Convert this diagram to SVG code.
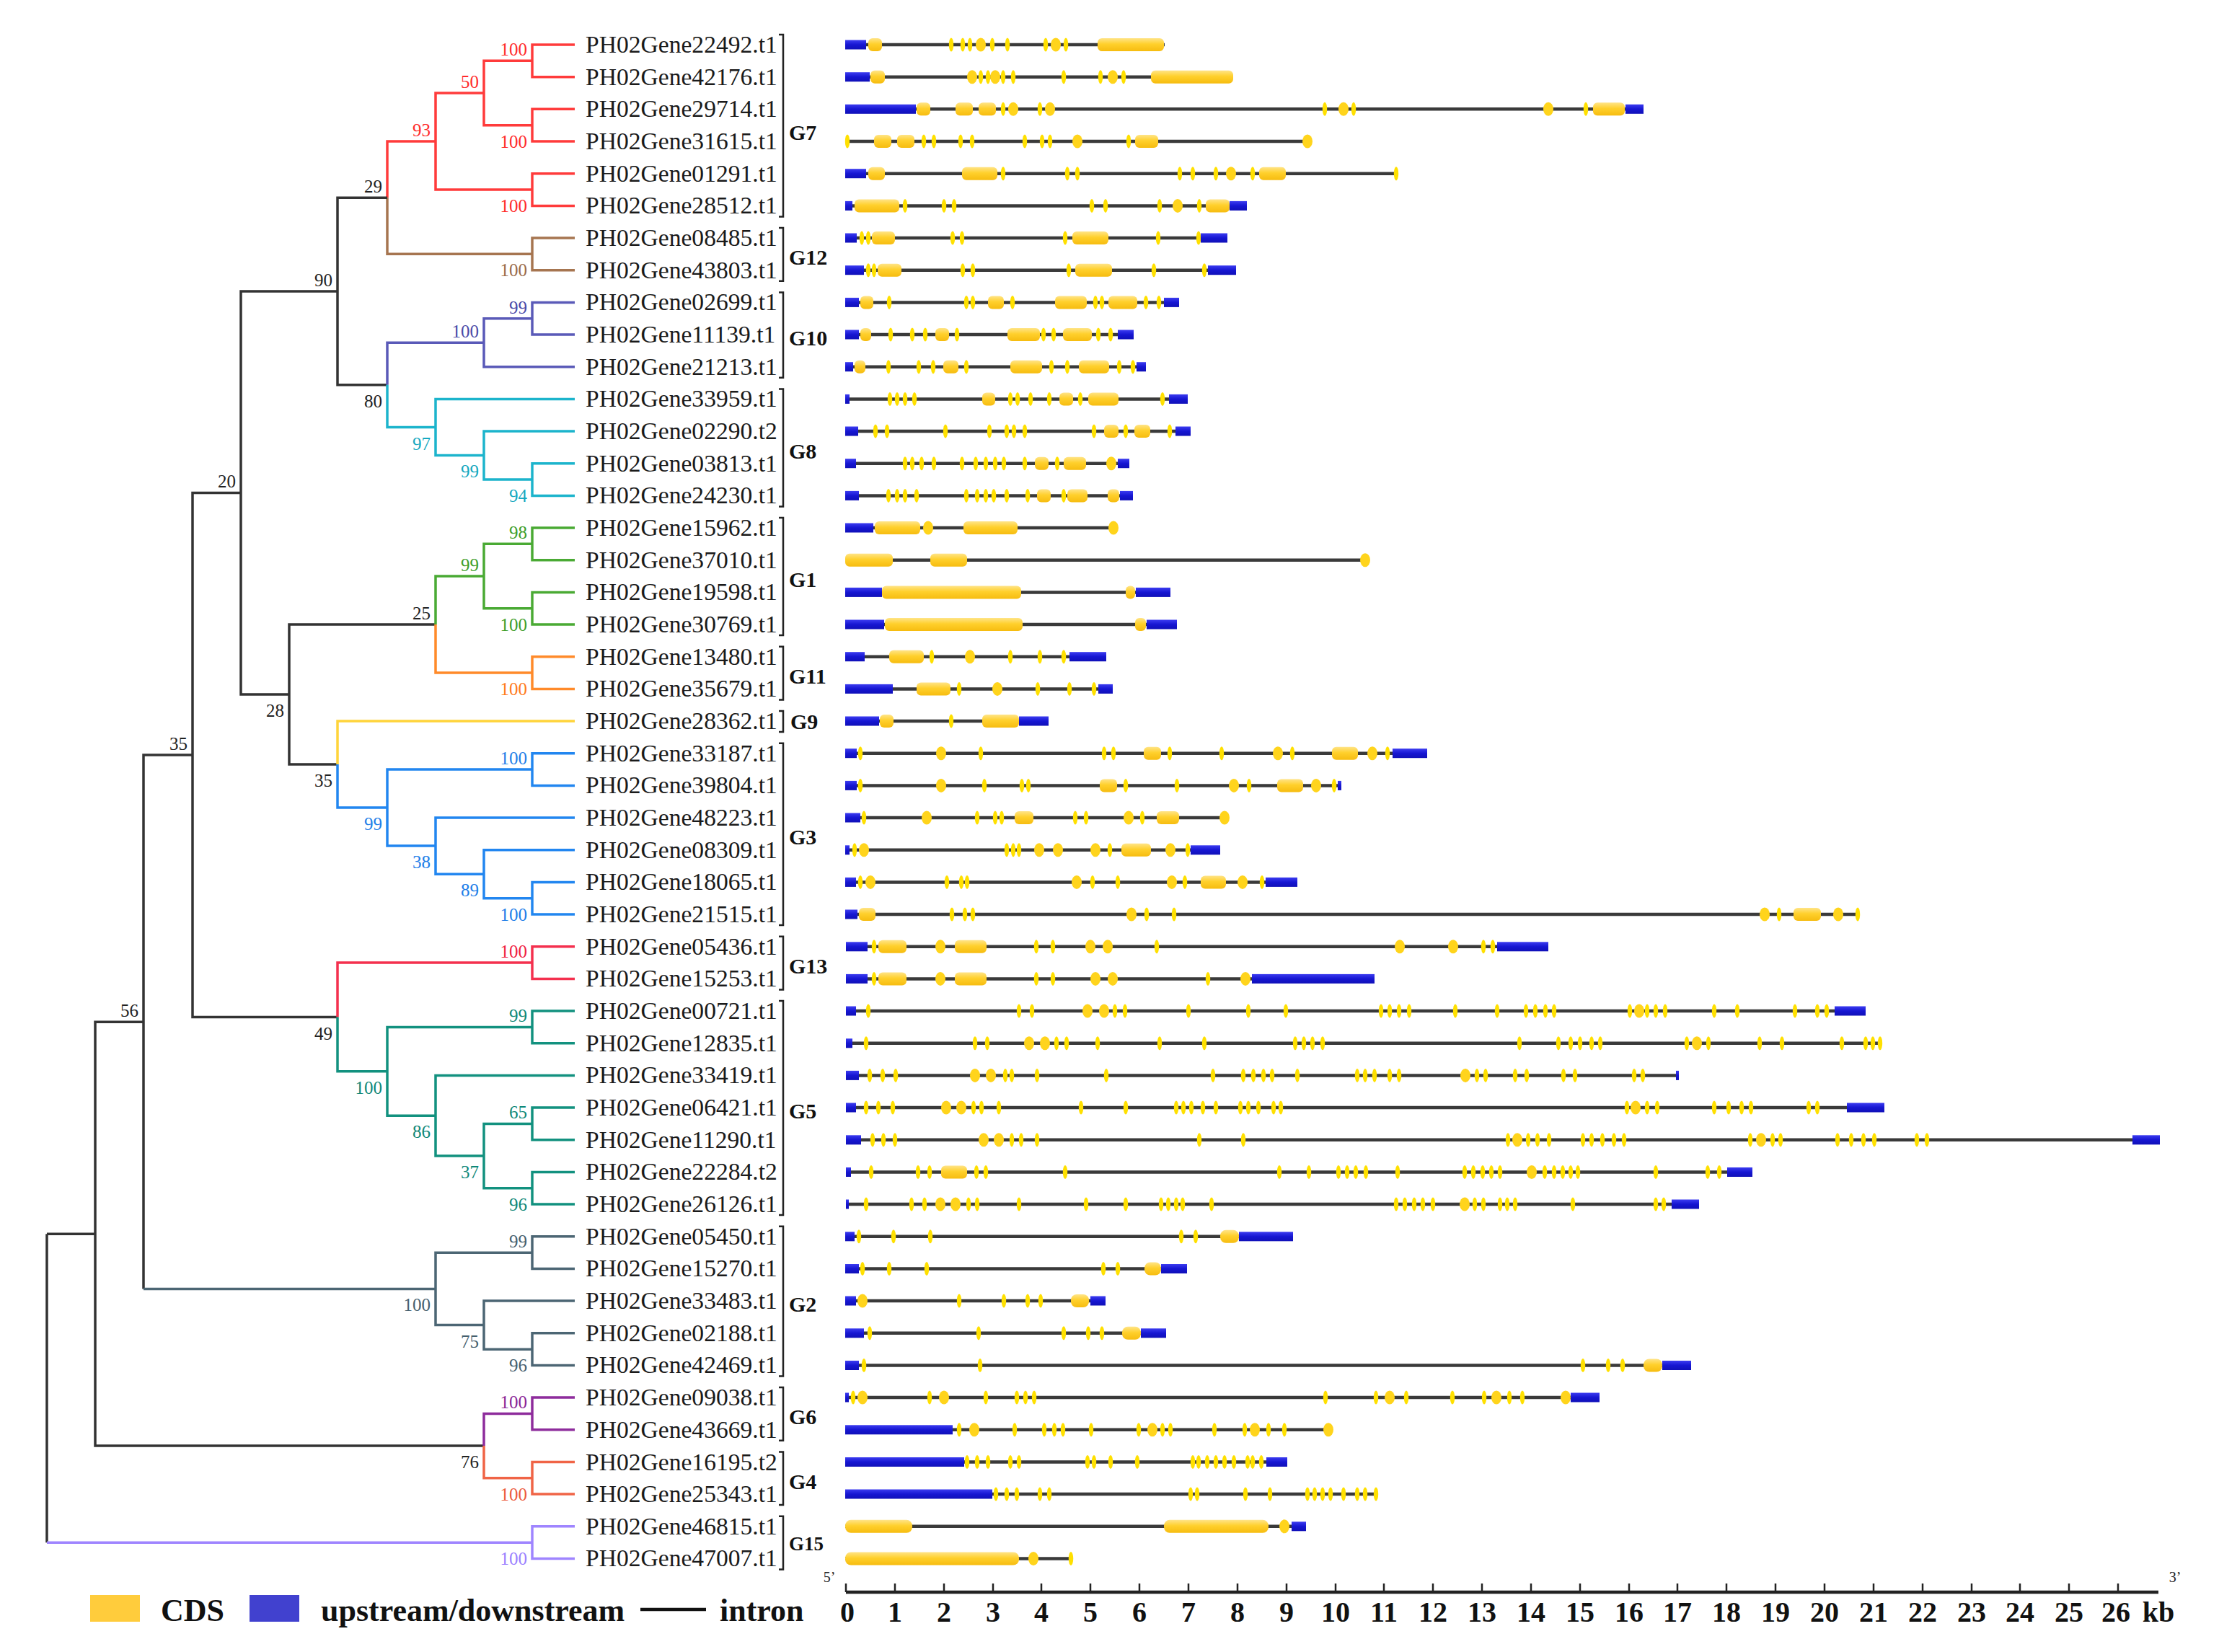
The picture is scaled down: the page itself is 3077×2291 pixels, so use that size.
<svg xmlns="http://www.w3.org/2000/svg" xmlns:xlink="http://www.w3.org/1999/xlink" width="3077" height="2291" viewBox="0 0 3077 2291">
<style>
text{font-family:"Liberation Serif","Times New Roman",serif}
.gl{font-size:33.6px;fill:#1a1a1a}
.bs{font-size:25px;text-anchor:end}
.grp{font-size:30px;font-weight:bold;fill:#111}
.ax{font-size:40px;font-weight:bold;text-anchor:middle;fill:#111}
.lg{font-size:44px;font-weight:bold;fill:#111}
.br{fill:none;stroke-width:3.5;stroke-linejoin:miter}
.L{fill:none;stroke:#3a3a3a;stroke-width:4.5}
.B{fill:url(#gb)}
.Y{fill:url(#gy)}
.bk{fill:none;stroke:#222;stroke-width:2.5}
</style>
<defs>
<linearGradient id="gy" x1="0" y1="0" x2="0" y2="1"><stop offset="0" stop-color="#ffe488"/><stop offset="0.45" stop-color="#ffd02c"/><stop offset="1" stop-color="#f6bc10"/></linearGradient>
<linearGradient id="gb" x1="0" y1="0" x2="0" y2="1"><stop offset="0" stop-color="#3c3cf0"/><stop offset="0.5" stop-color="#1616d2"/><stop offset="1" stop-color="#1010b8"/></linearGradient>
<ellipse id="s" cx="0" cy="0" rx="3.2" ry="9.5" fill="#ffe000"/>
<ellipse id="r" cx="0" cy="0" rx="7" ry="9.5" fill="#ffd41c"/>
</defs>
<rect width="3077" height="2291" fill="#fff"/>

<g id="connectors">
<path class="br" stroke="#ff3b3b" d="M738 84.35V62H797M738 84.35V106.7H797M738 173.65V151.3H797M738 173.65V196H797M671 129V84.35H738M671 129V173.65H738M738 263.05V240.7H797M738 263.05V285.4H797M604 196V129H671M604 196V263.05H738M537 274.2V196H604"/>
<path class="br" stroke="#a67550" d="M537 274.2V352.35H738M738 352.35V330H797M738 352.35V374.7H797"/>
<path class="br" stroke="#333" d="M468 404V274.2H537M468 404V533.8H537M334 683.5V404H468M334 683.5V963H401M401 963V866H604M401 963V1060H468M267 1047V683.5H334M267 1047V1410.5H468M199 1417.2V1047H267M199 1417.2V1787.4M132 1711.2V1417.2H199M132 1711.2V2005.1H671M65 1711.2V2139.2M65 1711.2H132"/>
<path class="br" stroke="#5a5ab8" d="M537 533.8V475.2H671M671 475.2V441.7H738M671 475.2V508.7H797M738 441.7V419.4H797M738 441.7V464H797"/>
<path class="br" stroke="#1cb4cc" d="M537 533.8V592.5H604M604 592.5V553.4H797M604 592.5V631.5H671M671 631.5V598H797M671 631.5V665H738M738 665V642.7H797M738 665V687.4H797"/>
<path class="br" stroke="#4aaa34" d="M604 866V799H671M671 799V754.3H738M671 799V843.7H738M738 754.3V732H797M738 754.3V776.7H797M738 843.7V821.4H797M738 843.7V866H797"/>
<path class="br" stroke="#ff8a2a" d="M604 866V933H738M738 933V910.7H797M738 933V955.4H797"/>
<path class="br" stroke="#ffd43a" d="M468 1060V1000H797"/>
<path class="br" stroke="#2286f0" d="M468 1060V1120H537M537 1120V1067H738M537 1120V1173.1H604M738 1067V1044.7H797M738 1067V1089.4H797M604 1173.1V1134H797M604 1173.1V1212.2H671M671 1212.2V1178.8H797M671 1212.2V1245.7H738M738 1245.7V1223.4H797M738 1245.7V1268H797"/>
<path class="br" stroke="#f4304e" d="M468 1410.5V1335.1H738M738 1335.1V1312.8H797M738 1335.1V1357.4H797"/>
<path class="br" stroke="#12917f" d="M468 1410.5V1485.8H537M537 1485.8V1424.4H738M537 1485.8V1547.3H604M738 1424.4V1402H797M738 1424.4V1446.8H797M604 1547.3V1491.4H797M604 1547.3V1603.1H671M671 1603.1V1558.4H738M671 1603.1V1647.8H738M738 1558.4V1536H797M738 1558.4V1580.8H797M738 1647.8V1625.5H797M738 1647.8V1670H797"/>
<path class="br" stroke="#4c6674" d="M199 1787.4H604M604 1787.4V1737.2H738M604 1787.4V1837.6H671M738 1737.2V1714.8H797M738 1737.2V1759.5H797M671 1837.6V1804H797M671 1837.6V1871.2H738M738 1871.2V1848.8H797M738 1871.2V1893.5H797"/>
<path class="br" stroke="#8e2c9c" d="M671 2005.1V1960.4H738M738 1960.4V1938H797M738 1960.4V1982.8H797"/>
<path class="br" stroke="#f06446" d="M671 2005.1V2049.8H738M738 2049.8V2027.5H797M738 2049.8V2072H797"/>
<path class="br" stroke="#9f85ff" d="M65 2139.2H738M738 2139.2V2116.8H797M738 2139.2V2161.5H797"/>
</g>

<g id="bootstrap">
<text class="bs" fill="#ff2a2a" x="731" y="77">100</text>
<text class="bs" fill="#ff2a2a" x="664" y="122">50</text>
<text class="bs" fill="#ff2a2a" x="731" y="205">100</text>
<text class="bs" fill="#ff2a2a" x="597" y="189">93</text>
<text class="bs" fill="#ff2a2a" x="731" y="294">100</text>
<text class="bs" fill="#222" x="530" y="267">29</text>
<text class="bs" fill="#9a6a48" x="731" y="383">100</text>
<text class="bs" fill="#222" x="461" y="397">90</text>
<text class="bs" fill="#4a4aa8" x="731" y="435">99</text>
<text class="bs" fill="#4a4aa8" x="664" y="468">100</text>
<text class="bs" fill="#222" x="530" y="565">80</text>
<text class="bs" fill="#14a8c0" x="597" y="624">97</text>
<text class="bs" fill="#14a8c0" x="664" y="662">99</text>
<text class="bs" fill="#14a8c0" x="731" y="696">94</text>
<text class="bs" fill="#222" x="327" y="676">20</text>
<text class="bs" fill="#3e9e2a" x="731" y="747">98</text>
<text class="bs" fill="#3e9e2a" x="664" y="792">99</text>
<text class="bs" fill="#3e9e2a" x="731" y="875">100</text>
<text class="bs" fill="#222" x="597" y="859">25</text>
<text class="bs" fill="#ff7a1a" x="731" y="964">100</text>
<text class="bs" fill="#222" x="394" y="994">28</text>
<text class="bs" fill="#222" x="461" y="1091">35</text>
<text class="bs" fill="#1e7ee8" x="731" y="1060">100</text>
<text class="bs" fill="#1e7ee8" x="530" y="1151">99</text>
<text class="bs" fill="#1e7ee8" x="597" y="1204">38</text>
<text class="bs" fill="#1e7ee8" x="664" y="1243">89</text>
<text class="bs" fill="#1e7ee8" x="731" y="1277">100</text>
<text class="bs" fill="#222" x="260" y="1040">35</text>
<text class="bs" fill="#f02040" x="731" y="1328">100</text>
<text class="bs" fill="#222" x="461" y="1442">49</text>
<text class="bs" fill="#0f8878" x="731" y="1417">99</text>
<text class="bs" fill="#222" x="192" y="1410">56</text>
<text class="bs" fill="#0f8878" x="530" y="1517">100</text>
<text class="bs" fill="#0f8878" x="731" y="1551">65</text>
<text class="bs" fill="#0f8878" x="597" y="1578">86</text>
<text class="bs" fill="#0f8878" x="664" y="1634">37</text>
<text class="bs" fill="#0f8878" x="731" y="1679">96</text>
<text class="bs" fill="#46606e" x="731" y="1730">99</text>
<text class="bs" fill="#46606e" x="597" y="1818">100</text>
<text class="bs" fill="#46606e" x="664" y="1869">75</text>
<text class="bs" fill="#46606e" x="731" y="1902">96</text>
<text class="bs" fill="#8a2496" x="731" y="1953">100</text>
<text class="bs" fill="#222" x="664" y="2036">76</text>
<text class="bs" fill="#ec5a3c" x="731" y="2081">100</text>
<text class="bs" fill="#9a80ff" x="731" y="2170">100</text>
</g>

<g id="clades">
<path class="bk" d="M1080 48H1086V300.4H1080M1080 316H1086V389.7H1080M1080 405.4H1086V523.7H1080M1080 539.4H1086V702.4H1080M1080 718H1086V881H1080M1080 896.7H1086V970.4H1080M1080 986H1086V1015H1080M1080 1030.7H1086V1283H1080M1080 1298.8H1086V1372.4H1080M1080 1388H1086V1685H1080M1080 1700.8H1086V1908.5H1080M1080 1924H1086V1997.8H1080M1080 2013.5H1086V2087H1080M1080 2102.8H1086V2176.5H1080"/>
<text class="grp" x="1094" y="194">G7</text>
<text class="grp" x="1094" y="367">G12</text>
<text class="grp" x="1094" y="479">G10</text>
<text class="grp" x="1094" y="636">G8</text>
<text class="grp" x="1094" y="814">G1</text>
<text class="grp" x="1094" y="948">G11</text>
<text class="grp" x="1096" y="1011">G9</text>
<text class="grp" x="1094" y="1171">G3</text>
<text class="grp" x="1094" y="1350">G13</text>
<text class="grp" x="1094" y="1551">G5</text>
<text class="grp" x="1094" y="1819">G2</text>
<text class="grp" x="1094" y="1975">G6</text>
<text class="grp" x="1094" y="2065">G4</text>
<text class="grp" x="1094" y="2150" style="font-size:27px">G15</text>
</g>

<g id="n22492"><text class="gl" x="812" y="73">PH02Gene22492.t1</text><g transform="translate(0,62)"><path class="L" d="M1172 0H1615"/><rect class="B" x="1172" y="-6.5" width="29" height="13"/><rect class="Y" x="1204" y="-9" width="19" height="18" rx="6"/><use href="#s" x="1319"/><use href="#s" x="1335"/><use href="#s" x="1345"/><use href="#r" x="1360"/><use href="#s" x="1376"/><use href="#s" x="1397"/><use href="#s" x="1450"/><use href="#r" x="1464"/><use href="#s" x="1478"/><rect class="Y" x="1522" y="-9" width="92" height="18" rx="6"/></g></g>

<g id="n42176"><text class="gl" x="812" y="118">PH02Gene42176.t1</text><g transform="translate(0,106.7)"><path class="L" d="M1172 0H1710"/><rect class="B" x="1172" y="-6.5" width="34" height="13"/><rect class="Y" x="1207" y="-9" width="20" height="18" rx="6"/><use href="#r" x="1348"/><use href="#s" x="1360"/><use href="#s" x="1370"/><use href="#r" x="1380"/><use href="#s" x="1391"/><use href="#s" x="1405"/><use href="#s" x="1475"/><use href="#s" x="1526"/><use href="#r" x="1543"/><use href="#s" x="1558"/><rect class="Y" x="1596" y="-9" width="114" height="18" rx="6"/></g></g>

<g id="n29714"><text class="gl" x="812" y="162">PH02Gene29714.t1</text><g transform="translate(0,151.3)"><path class="L" d="M1172 0H2279"/><rect class="B" x="1172" y="-6.5" width="98" height="13"/><rect class="Y" x="1271" y="-9" width="19" height="18" rx="6"/><rect class="Y" x="1325" y="-9" width="24" height="18" rx="6"/><rect class="Y" x="1357" y="-9" width="24" height="18" rx="6"/><use href="#s" x="1391"/><use href="#r" x="1405"/><use href="#s" x="1442"/><use href="#r" x="1456"/><use href="#s" x="1837"/><use href="#r" x="1863"/><use href="#s" x="1877"/><use href="#r" x="2147"/><use href="#s" x="2199"/><rect class="Y" x="2209" y="-9" width="44" height="18" rx="6"/><rect class="B" x="2254" y="-6.5" width="25" height="13"/></g></g>

<g id="n31615"><text class="gl" x="812" y="207">PH02Gene31615.t1</text><g transform="translate(0,196)"><path class="L" d="M1175 0H1813"/><use href="#s" x="1175"/><rect class="Y" x="1212" y="-9" width="24" height="18" rx="6"/><rect class="Y" x="1244" y="-9" width="24" height="18" rx="6"/><use href="#s" x="1281"/><use href="#s" x="1295"/><use href="#s" x="1332"/><use href="#s" x="1348"/><use href="#s" x="1421"/><use href="#s" x="1445"/><use href="#s" x="1456"/><use href="#r" x="1494"/><use href="#s" x="1565"/><rect class="Y" x="1574" y="-9" width="32" height="18" rx="6"/><use href="#r" x="1813"/></g></g>

<g id="n01291"><text class="gl" x="812" y="252">PH02Gene01291.t1</text><g transform="translate(0,240.7)"><path class="L" d="M1172 0H1936"/><rect class="B" x="1172" y="-6.5" width="29" height="13"/><rect class="Y" x="1204" y="-9" width="23" height="18" rx="6"/><rect class="Y" x="1334" y="-9" width="49" height="18" rx="6"/><use href="#s" x="1391"/><use href="#s" x="1480"/><use href="#s" x="1494"/><use href="#s" x="1636"/><use href="#s" x="1654"/><use href="#s" x="1686"/><use href="#r" x="1707"/><use href="#s" x="1737"/><rect class="Y" x="1746" y="-9" width="37" height="18" rx="6"/><use href="#s" x="1936"/></g></g>

<g id="n28512"><text class="gl" x="812" y="296">PH02Gene28512.t1</text><g transform="translate(0,285.4)"><path class="L" d="M1172 0H1729"/><rect class="B" x="1172" y="-6.5" width="10" height="13"/><rect class="Y" x="1185" y="-9" width="62" height="18" rx="6"/><use href="#s" x="1255"/><use href="#s" x="1309"/><use href="#s" x="1323"/><use href="#s" x="1514"/><use href="#s" x="1533"/><use href="#s" x="1608"/><use href="#r" x="1633"/><use href="#s" x="1663"/><rect class="Y" x="1672" y="-9" width="33" height="18" rx="6"/><rect class="B" x="1705" y="-6.5" width="24" height="13"/></g></g>

<g id="n08485"><text class="gl" x="812" y="341">PH02Gene08485.t1</text><g transform="translate(0,330)"><path class="L" d="M1172 0H1702"/><rect class="B" x="1172" y="-6.5" width="16" height="13"/><use href="#s" x="1195"/><use href="#s" x="1204"/><rect class="Y" x="1209" y="-9" width="32" height="18" rx="6"/><use href="#s" x="1321"/><use href="#s" x="1334"/><use href="#s" x="1477"/><rect class="Y" x="1487" y="-9" width="50" height="18" rx="6"/><use href="#s" x="1606"/><use href="#s" x="1662"/><rect class="B" x="1665" y="-6.5" width="37" height="13"/></g></g>

<g id="n43803"><text class="gl" x="812" y="386">PH02Gene43803.t1</text><g transform="translate(0,374.7)"><path class="L" d="M1172 0H1714"/><rect class="B" x="1172" y="-6.5" width="26" height="13"/><use href="#s" x="1204"/><use href="#s" x="1212"/><rect class="Y" x="1217" y="-9" width="33" height="18" rx="6"/><use href="#s" x="1335"/><use href="#s" x="1349"/><use href="#s" x="1482"/><rect class="Y" x="1491" y="-9" width="51" height="18" rx="6"/><use href="#s" x="1600"/><use href="#s" x="1670"/><rect class="B" x="1675" y="-6.5" width="39" height="13"/></g></g>

<g id="n02699"><text class="gl" x="812" y="430">PH02Gene02699.t1</text><g transform="translate(0,419.4)"><path class="L" d="M1172 0H1635"/><rect class="B" x="1172" y="-6.5" width="19" height="13"/><rect class="Y" x="1193" y="-9" width="18" height="18" rx="6"/><use href="#s" x="1233"/><use href="#s" x="1340"/><use href="#s" x="1349"/><rect class="Y" x="1370" y="-9" width="22" height="18" rx="6"/><use href="#s" x="1404"/><rect class="Y" x="1463" y="-9" width="44" height="18" rx="6"/><use href="#s" x="1519"/><use href="#s" x="1528"/><rect class="Y" x="1537" y="-9" width="40" height="18" rx="6"/><use href="#s" x="1589"/><use href="#s" x="1607"/><rect class="B" x="1614" y="-6.5" width="21" height="13"/></g></g>

<g id="n11139"><text class="gl" x="812" y="475">PH02Gene11139.t1</text><g transform="translate(0,464)"><path class="L" d="M1172 0H1572"/><rect class="B" x="1172" y="-6.5" width="19" height="13"/><rect class="Y" x="1193" y="-9" width="15" height="18" rx="6"/><use href="#s" x="1235"/><use href="#s" x="1265"/><use href="#s" x="1283"/><rect class="Y" x="1297" y="-9" width="19" height="18" rx="6"/><use href="#s" x="1327"/><rect class="Y" x="1397" y="-9" width="45" height="18" rx="6"/><use href="#s" x="1447"/><use href="#s" x="1461"/><rect class="Y" x="1474" y="-9" width="40" height="18" rx="6"/><use href="#s" x="1523"/><use href="#s" x="1540"/><rect class="B" x="1550" y="-6.5" width="22" height="13"/></g></g>

<g id="n21213"><text class="gl" x="812" y="520">PH02Gene21213.t1</text><g transform="translate(0,508.7)"><path class="L" d="M1172 0H1589"/><rect class="B" x="1172" y="-6.5" width="11" height="13"/><rect class="Y" x="1185" y="-9" width="15" height="18" rx="6"/><use href="#s" x="1232"/><use href="#s" x="1274"/><use href="#s" x="1294"/><rect class="Y" x="1308" y="-9" width="21" height="18" rx="6"/><use href="#s" x="1340"/><rect class="Y" x="1401" y="-9" width="44" height="18" rx="6"/><use href="#s" x="1458"/><use href="#s" x="1480"/><rect class="Y" x="1496" y="-9" width="42" height="18" rx="6"/><use href="#s" x="1552"/><use href="#s" x="1571"/><rect class="B" x="1576" y="-6.5" width="13" height="13"/></g></g>

<g id="n33959"><text class="gl" x="812" y="564">PH02Gene33959.t1</text><g transform="translate(0,553.4)"><path class="L" d="M1172 0H1647"/><rect class="B" x="1172" y="-6.5" width="6" height="13"/><use href="#s" x="1234"/><use href="#s" x="1244"/><use href="#s" x="1255"/><use href="#s" x="1268"/><rect class="Y" x="1362" y="-9" width="18" height="18" rx="6"/><use href="#s" x="1401"/><use href="#s" x="1411"/><use href="#s" x="1429"/><use href="#s" x="1455"/><rect class="Y" x="1469" y="-9" width="19" height="18" rx="6"/><use href="#s" x="1498"/><rect class="Y" x="1509" y="-9" width="42" height="18" rx="6"/><use href="#s" x="1612"/><rect class="B" x="1621" y="-6.5" width="26" height="13"/></g></g>

<g id="n02290"><text class="gl" x="812" y="609">PH02Gene02290.t2</text><g transform="translate(0,598)"><path class="L" d="M1172 0H1651"/><rect class="B" x="1172" y="-6.5" width="18" height="13"/><use href="#s" x="1214"/><use href="#s" x="1230"/><use href="#s" x="1311"/><use href="#s" x="1372"/><use href="#s" x="1396"/><use href="#s" x="1406"/><use href="#s" x="1421"/><use href="#s" x="1517"/><rect class="Y" x="1531" y="-9" width="20" height="18" rx="6"/><use href="#s" x="1561"/><rect class="Y" x="1573" y="-9" width="22" height="18" rx="6"/><use href="#s" x="1622"/><rect class="B" x="1630" y="-6.5" width="21" height="13"/></g></g>

<g id="n03813"><text class="gl" x="812" y="654">PH02Gene03813.t1</text><g transform="translate(0,642.7)"><path class="L" d="M1172 0H1566"/><rect class="B" x="1172" y="-6.5" width="15" height="13"/><use href="#s" x="1255"/><use href="#s" x="1265"/><use href="#s" x="1278"/><use href="#s" x="1295"/><use href="#s" x="1334"/><use href="#s" x="1353"/><use href="#s" x="1367"/><use href="#s" x="1380"/><use href="#s" x="1392"/><use href="#s" x="1421"/><rect class="Y" x="1435" y="-9" width="19" height="18" rx="6"/><use href="#s" x="1466"/><rect class="Y" x="1475" y="-9" width="31" height="18" rx="6"/><use href="#r" x="1541"/><rect class="B" x="1550" y="-6.5" width="16" height="13"/></g></g>

<g id="n24230"><text class="gl" x="812" y="698">PH02Gene24230.t1</text><g transform="translate(0,687.4)"><path class="L" d="M1172 0H1571"/><rect class="B" x="1172" y="-6.5" width="19" height="13"/><use href="#s" x="1232"/><use href="#s" x="1244"/><use href="#s" x="1255"/><use href="#s" x="1271"/><use href="#s" x="1340"/><use href="#s" x="1355"/><use href="#s" x="1367"/><use href="#s" x="1378"/><use href="#s" x="1396"/><use href="#s" x="1425"/><rect class="Y" x="1438" y="-9" width="19" height="18" rx="6"/><use href="#s" x="1475"/><rect class="Y" x="1480" y="-9" width="28" height="18" rx="6"/><rect class="Y" x="1536" y="-9" width="16" height="18" rx="6"/><rect class="B" x="1553" y="-6.5" width="18" height="13"/></g></g>

<g id="n15962"><text class="gl" x="812" y="743">PH02Gene15962.t1</text><g transform="translate(0,732)"><path class="L" d="M1172 0H1544"/><rect class="B" x="1172" y="-6.5" width="39" height="13"/><rect class="Y" x="1213" y="-9" width="63" height="18" rx="6"/><use href="#r" x="1287"/><rect class="Y" x="1336" y="-9" width="75" height="18" rx="6"/><use href="#r" x="1544"/></g></g>

<g id="n37010"><text class="gl" x="812" y="788">PH02Gene37010.t1</text><g transform="translate(0,776.7)"><path class="L" d="M1172 0H1893"/><rect class="Y" x="1172" y="-9" width="66" height="18" rx="6"/><rect class="Y" x="1290" y="-9" width="51" height="18" rx="6"/><use href="#r" x="1893"/></g></g>

<g id="n19598"><text class="gl" x="812" y="832">PH02Gene19598.t1</text><g transform="translate(0,821.4)"><path class="L" d="M1172 0H1623"/><rect class="B" x="1172" y="-6.5" width="51" height="13"/><rect class="Y" x="1223" y="-9" width="193" height="18" rx="6"/><rect class="Y" x="1561" y="-9" width="13" height="18" rx="6"/><rect class="B" x="1575" y="-6.5" width="48" height="13"/></g></g>

<g id="n30769"><text class="gl" x="812" y="877">PH02Gene30769.t1</text><g transform="translate(0,866)"><path class="L" d="M1172 0H1632"/><rect class="B" x="1172" y="-6.5" width="54" height="13"/><rect class="Y" x="1227" y="-9" width="191" height="18" rx="6"/><rect class="Y" x="1574" y="-9" width="15" height="18" rx="6"/><rect class="B" x="1590" y="-6.5" width="42" height="13"/></g></g>

<g id="n13480"><text class="gl" x="812" y="922">PH02Gene13480.t1</text><g transform="translate(0,910.7)"><path class="L" d="M1172 0H1534"/><rect class="B" x="1172" y="-6.5" width="27" height="13"/><rect class="Y" x="1233" y="-9" width="48" height="18" rx="6"/><use href="#s" x="1292"/><use href="#r" x="1345"/><use href="#s" x="1401"/><use href="#s" x="1442"/><use href="#s" x="1475"/><rect class="B" x="1483" y="-6.5" width="51" height="13"/></g></g>

<g id="n35679"><text class="gl" x="812" y="966">PH02Gene35679.t1</text><g transform="translate(0,955.4)"><path class="L" d="M1172 0H1543"/><rect class="B" x="1172" y="-6.5" width="66" height="13"/><rect class="Y" x="1271" y="-9" width="47" height="18" rx="6"/><use href="#s" x="1330"/><use href="#r" x="1383"/><use href="#s" x="1439"/><use href="#s" x="1483"/><use href="#s" x="1517"/><rect class="B" x="1523" y="-6.5" width="20" height="13"/></g></g>

<g id="n28362"><text class="gl" x="812" y="1011">PH02Gene28362.t1</text><g transform="translate(0,1000)"><path class="L" d="M1172 0H1454"/><rect class="B" x="1172" y="-6.5" width="47" height="13"/><rect class="Y" x="1220" y="-9" width="19" height="18" rx="6"/><use href="#s" x="1319"/><rect class="Y" x="1362" y="-9" width="51" height="18" rx="6"/><rect class="B" x="1413" y="-6.5" width="41" height="13"/></g></g>

<g id="n33187"><text class="gl" x="812" y="1056">PH02Gene33187.t1</text><g transform="translate(0,1044.7)"><path class="L" d="M1172 0H1979"/><rect class="B" x="1172" y="-6.5" width="16" height="13"/><use href="#s" x="1193"/><use href="#r" x="1305"/><use href="#s" x="1360"/><use href="#s" x="1531"/><use href="#s" x="1544"/><rect class="Y" x="1586" y="-9" width="24" height="18" rx="6"/><use href="#s" x="1622"/><use href="#s" x="1694"/><use href="#r" x="1772"/><use href="#s" x="1792"/><rect class="Y" x="1847" y="-9" width="36" height="18" rx="6"/><use href="#r" x="1903"/><use href="#s" x="1924"/><rect class="B" x="1931" y="-6.5" width="48" height="13"/></g></g>

<g id="n39804"><text class="gl" x="812" y="1100">PH02Gene39804.t1</text><g transform="translate(0,1089.4)"><path class="L" d="M1172 0H1860"/><rect class="B" x="1172" y="-6.5" width="16" height="13"/><use href="#s" x="1193"/><use href="#r" x="1305"/><use href="#s" x="1365"/><use href="#s" x="1417"/><use href="#s" x="1426"/><rect class="Y" x="1525" y="-9" width="24" height="18" rx="6"/><use href="#s" x="1561"/><use href="#s" x="1632"/><use href="#r" x="1711"/><use href="#s" x="1732"/><rect class="Y" x="1771" y="-9" width="36" height="18" rx="6"/><use href="#r" x="1825"/><use href="#s" x="1850"/><rect class="B" x="1855" y="-6.5" width="5" height="13"/></g></g>

<g id="n48223"><text class="gl" x="812" y="1145">PH02Gene48223.t1</text><g transform="translate(0,1134)"><path class="L" d="M1172 0H1698"/><rect class="B" x="1172" y="-6.5" width="21" height="13"/><use href="#s" x="1198"/><use href="#r" x="1285"/><use href="#s" x="1355"/><use href="#s" x="1380"/><use href="#s" x="1389"/><rect class="Y" x="1407" y="-9" width="26" height="18" rx="6"/><use href="#s" x="1491"/><use href="#s" x="1506"/><use href="#r" x="1565"/><use href="#s" x="1584"/><rect class="Y" x="1604" y="-9" width="31" height="18" rx="6"/><use href="#r" x="1698"/></g></g>

<g id="n08309"><text class="gl" x="812" y="1190">PH02Gene08309.t1</text><g transform="translate(0,1178.8)"><path class="L" d="M1172 0H1692"/><rect class="B" x="1172" y="-6.5" width="6" height="13"/><use href="#s" x="1185"/><use href="#r" x="1198"/><use href="#s" x="1396"/><use href="#s" x="1405"/><use href="#s" x="1413"/><use href="#r" x="1441"/><use href="#r" x="1467"/><use href="#r" x="1519"/><use href="#s" x="1539"/><rect class="Y" x="1555" y="-9" width="41" height="18" rx="6"/><use href="#r" x="1623"/><use href="#s" x="1647"/><rect class="B" x="1651" y="-6.5" width="41" height="13"/></g></g>

<g id="n18065"><text class="gl" x="812" y="1234">PH02Gene18065.t1</text><g transform="translate(0,1223.4)"><path class="L" d="M1172 0H1799"/><rect class="B" x="1172" y="-6.5" width="15" height="13"/><use href="#s" x="1193"/><use href="#r" x="1207"/><use href="#s" x="1313"/><use href="#s" x="1333"/><use href="#s" x="1341"/><use href="#r" x="1493"/><use href="#s" x="1515"/><use href="#s" x="1550"/><use href="#r" x="1625"/><use href="#s" x="1643"/><rect class="Y" x="1665" y="-9" width="35" height="18" rx="6"/><use href="#r" x="1723"/><use href="#s" x="1750"/><rect class="B" x="1755" y="-6.5" width="44" height="13"/></g></g>

<g id="n21515"><text class="gl" x="812" y="1279">PH02Gene21515.t1</text><g transform="translate(0,1268)"><path class="L" d="M1172 0H2576"/><rect class="B" x="1172" y="-6.5" width="17" height="13"/><rect class="Y" x="1191" y="-9" width="23" height="18" rx="6"/><use href="#s" x="1320"/><use href="#s" x="1338"/><use href="#s" x="1349"/><use href="#r" x="1569"/><use href="#s" x="1590"/><use href="#s" x="1628"/><use href="#r" x="2447"/><use href="#s" x="2467"/><rect class="Y" x="2487" y="-9" width="38" height="18" rx="6"/><use href="#r" x="2549"/><use href="#s" x="2576"/></g></g>

<g id="n05436"><text class="gl" x="812" y="1324">PH02Gene05436.t1</text><g transform="translate(0,1312.8)"><path class="L" d="M1173 0H2147"/><rect class="B" x="1173" y="-6.5" width="30" height="13"/><use href="#s" x="1212"/><rect class="Y" x="1218" y="-9" width="39" height="18" rx="6"/><use href="#r" x="1304"/><rect class="Y" x="1324" y="-9" width="44" height="18" rx="6"/><use href="#s" x="1437"/><use href="#s" x="1460"/><use href="#r" x="1512"/><use href="#r" x="1536"/><use href="#s" x="1604"/><use href="#r" x="1941"/><use href="#r" x="2015"/><use href="#s" x="2057"/><use href="#s" x="2070"/><rect class="B" x="2076" y="-6.5" width="71" height="13"/></g></g>

<g id="n15253"><text class="gl" x="812" y="1368">PH02Gene15253.t1</text><g transform="translate(0,1357.4)"><path class="L" d="M1173 0H1906"/><rect class="B" x="1173" y="-6.5" width="30" height="13"/><use href="#s" x="1212"/><rect class="Y" x="1218" y="-9" width="39" height="18" rx="6"/><use href="#r" x="1304"/><rect class="Y" x="1324" y="-9" width="44" height="18" rx="6"/><use href="#s" x="1437"/><use href="#s" x="1460"/><use href="#r" x="1519"/><use href="#r" x="1543"/><use href="#s" x="1675"/><use href="#r" x="1727"/><rect class="B" x="1736" y="-6.5" width="170" height="13"/></g></g>

<g id="n00721"><text class="gl" x="812" y="1413">PH02Gene00721.t1</text><g transform="translate(0,1402)"><path class="L" d="M1173 0H2587"/><rect class="B" x="1173" y="-6.5" width="14" height="13"/><use href="#s" x="1204"/><use href="#s" x="1413"/><use href="#s" x="1431"/><use href="#r" x="1508"/><use href="#r" x="1531"/><use href="#s" x="1546"/><use href="#s" x="1560"/><use href="#s" x="1648"/><use href="#s" x="1731"/><use href="#s" x="1783"/><use href="#s" x="1915"/><use href="#s" x="1927"/><use href="#s" x="1940"/><use href="#s" x="1954"/><use href="#s" x="2018"/><use href="#s" x="2076"/><use href="#s" x="2116"/><use href="#s" x="2129"/><use href="#s" x="2143"/><use href="#s" x="2155"/><use href="#s" x="2260"/><use href="#r" x="2273"/><use href="#s" x="2284"/><use href="#s" x="2296"/><use href="#s" x="2309"/><use href="#s" x="2377"/><use href="#s" x="2409"/><use href="#s" x="2489"/><use href="#s" x="2520"/><use href="#s" x="2533"/><rect class="B" x="2544" y="-6.5" width="43" height="13"/></g></g>

<g id="n12835"><text class="gl" x="812" y="1458">PH02Gene12835.t1</text><g transform="translate(0,1446.8)"><path class="L" d="M1173 0H2608"/><rect class="B" x="1173" y="-6.5" width="9" height="13"/><use href="#s" x="1201"/><use href="#s" x="1352"/><use href="#s" x="1369"/><use href="#r" x="1427"/><use href="#r" x="1449"/><use href="#s" x="1465"/><use href="#s" x="1479"/><use href="#s" x="1522"/><use href="#s" x="1608"/><use href="#s" x="1670"/><use href="#s" x="1796"/><use href="#s" x="1808"/><use href="#s" x="1820"/><use href="#s" x="1834"/><use href="#s" x="2107"/><use href="#s" x="2161"/><use href="#s" x="2178"/><use href="#s" x="2191"/><use href="#s" x="2207"/><use href="#s" x="2219"/><use href="#s" x="2339"/><use href="#r" x="2353"/><use href="#s" x="2369"/><use href="#s" x="2440"/><use href="#s" x="2471"/><use href="#s" x="2554"/><use href="#s" x="2587"/><use href="#s" x="2597"/><use href="#s" x="2607"/></g></g>

<g id="n33419"><text class="gl" x="812" y="1502">PH02Gene33419.t1</text><g transform="translate(0,1491.4)"><path class="L" d="M1173 0H2328"/><rect class="B" x="1173" y="-6.5" width="18" height="13"/><use href="#s" x="1206"/><use href="#s" x="1224"/><use href="#s" x="1242"/><use href="#r" x="1352"/><use href="#r" x="1374"/><use href="#s" x="1394"/><use href="#s" x="1403"/><use href="#s" x="1438"/><use href="#s" x="1534"/><use href="#s" x="1682"/><use href="#s" x="1724"/><use href="#s" x="1738"/><use href="#s" x="1752"/><use href="#s" x="1764"/><use href="#s" x="1799"/><use href="#s" x="1882"/><use href="#s" x="1893"/><use href="#s" x="1906"/><use href="#s" x="1927"/><use href="#s" x="1940"/><use href="#r" x="2032"/><use href="#s" x="2048"/><use href="#s" x="2060"/><use href="#s" x="2101"/><use href="#s" x="2117"/><use href="#s" x="2168"/><use href="#s" x="2184"/><use href="#s" x="2266"/><use href="#s" x="2278"/><rect class="B" x="2324" y="-6.5" width="4" height="13"/></g></g>

<g id="n06421"><text class="gl" x="812" y="1547">PH02Gene06421.t1</text><g transform="translate(0,1536)"><path class="L" d="M1173 0H2613"/><rect class="B" x="1173" y="-6.5" width="14" height="13"/><use href="#s" x="1201"/><use href="#s" x="1218"/><use href="#s" x="1238"/><use href="#r" x="1312"/><use href="#r" x="1333"/><use href="#s" x="1350"/><use href="#s" x="1361"/><use href="#s" x="1385"/><use href="#s" x="1499"/><use href="#s" x="1561"/><use href="#s" x="1631"/><use href="#s" x="1641"/><use href="#s" x="1652"/><use href="#s" x="1668"/><use href="#s" x="1686"/><use href="#s" x="1720"/><use href="#s" x="1731"/><use href="#s" x="1745"/><use href="#s" x="1766"/><use href="#s" x="1776"/><use href="#s" x="2256"/><use href="#r" x="2268"/><use href="#s" x="2284"/><use href="#s" x="2298"/><use href="#s" x="2377"/><use href="#s" x="2397"/><use href="#s" x="2415"/><use href="#s" x="2428"/><use href="#s" x="2508"/><use href="#s" x="2520"/><rect class="B" x="2561" y="-6.5" width="52" height="13"/></g></g>

<g id="n11290"><text class="gl" x="812" y="1592">PH02Gene11290.t1</text><g transform="translate(0,1580.8)"><path class="L" d="M1173 0H2995"/><rect class="B" x="1173" y="-6.5" width="21" height="13"/><use href="#s" x="1210"/><use href="#s" x="1225"/><use href="#s" x="1241"/><use href="#r" x="1364"/><use href="#r" x="1385"/><use href="#s" x="1403"/><use href="#s" x="1416"/><use href="#s" x="1438"/><use href="#s" x="1663"/><use href="#s" x="1724"/><use href="#s" x="2091"/><use href="#r" x="2104"/><use href="#s" x="2119"/><use href="#s" x="2132"/><use href="#s" x="2148"/><use href="#s" x="2195"/><use href="#s" x="2207"/><use href="#s" x="2222"/><use href="#s" x="2238"/><use href="#s" x="2252"/><use href="#s" x="2427"/><use href="#r" x="2442"/><use href="#s" x="2458"/><use href="#s" x="2469"/><use href="#s" x="2548"/><use href="#s" x="2567"/><use href="#s" x="2584"/><use href="#s" x="2599"/><use href="#s" x="2658"/><use href="#s" x="2672"/><rect class="B" x="2957" y="-6.5" width="38" height="13"/></g></g>

<g id="n22284"><text class="gl" x="812" y="1636">PH02Gene22284.t2</text><g transform="translate(0,1625.5)"><path class="L" d="M1173 0H2430"/><rect class="B" x="1173" y="-6.5" width="7" height="13"/><use href="#s" x="1208"/><use href="#s" x="1273"/><use href="#s" x="1289"/><rect class="Y" x="1305" y="-9" width="36" height="18" rx="6"/><use href="#s" x="1354"/><use href="#s" x="1367"/><use href="#s" x="1477"/><use href="#s" x="1774"/><use href="#s" x="1815"/><use href="#s" x="1856"/><use href="#s" x="1868"/><use href="#s" x="1880"/><use href="#s" x="1894"/><use href="#s" x="1938"/><use href="#s" x="2031"/><use href="#s" x="2043"/><use href="#s" x="2056"/><use href="#s" x="2068"/><use href="#s" x="2080"/><use href="#r" x="2124"/><use href="#s" x="2142"/><use href="#s" x="2155"/><use href="#s" x="2167"/><use href="#s" x="2178"/><use href="#s" x="2188"/><use href="#s" x="2296"/><use href="#s" x="2368"/><use href="#s" x="2384"/><rect class="B" x="2395" y="-6.5" width="35" height="13"/></g></g>

<g id="n26126"><text class="gl" x="812" y="1681">PH02Gene26126.t1</text><g transform="translate(0,1670)"><path class="L" d="M1173 0H2356"/><rect class="B" x="1173" y="-6.5" width="4" height="13"/><use href="#s" x="1201"/><use href="#s" x="1264"/><use href="#s" x="1282"/><use href="#r" x="1304"/><use href="#r" x="1325"/><use href="#s" x="1343"/><use href="#s" x="1355"/><use href="#s" x="1413"/><use href="#s" x="1506"/><use href="#s" x="1561"/><use href="#s" x="1610"/><use href="#s" x="1620"/><use href="#s" x="1631"/><use href="#s" x="1640"/><use href="#s" x="1680"/><use href="#s" x="1936"/><use href="#s" x="1948"/><use href="#s" x="1961"/><use href="#s" x="1973"/><use href="#s" x="1987"/><use href="#r" x="2031"/><use href="#s" x="2045"/><use href="#s" x="2057"/><use href="#s" x="2080"/><use href="#s" x="2090"/><use href="#s" x="2101"/><use href="#s" x="2181"/><use href="#s" x="2296"/><use href="#s" x="2307"/><rect class="B" x="2318" y="-6.5" width="38" height="13"/></g></g>

<g id="n05450"><text class="gl" x="812" y="1726">PH02Gene05450.t1</text><g transform="translate(0,1714.8)"><path class="L" d="M1172 0H1793"/><rect class="B" x="1172" y="-6.5" width="13" height="13"/><use href="#s" x="1191"/><use href="#s" x="1239"/><use href="#s" x="1290"/><use href="#s" x="1638"/><use href="#s" x="1658"/><rect class="Y" x="1692" y="-9" width="26" height="18" rx="8"/><rect class="B" x="1718" y="-6.5" width="75" height="13"/></g></g>

<g id="n15270"><text class="gl" x="812" y="1770">PH02Gene15270.t1</text><g transform="translate(0,1759.5)"><path class="L" d="M1172 0H1646"/><rect class="B" x="1172" y="-6.5" width="19" height="13"/><use href="#s" x="1196"/><use href="#s" x="1233"/><use href="#s" x="1285"/><use href="#s" x="1530"/><use href="#s" x="1550"/><rect class="Y" x="1587" y="-9" width="23" height="18" rx="8"/><rect class="B" x="1610" y="-6.5" width="36" height="13"/></g></g>

<g id="n33483"><text class="gl" x="812" y="1815">PH02Gene33483.t1</text><g transform="translate(0,1804)"><path class="L" d="M1172 0H1533"/><rect class="B" x="1172" y="-6.5" width="15" height="13"/><use href="#r" x="1196"/><use href="#s" x="1330"/><use href="#s" x="1392"/><use href="#s" x="1425"/><use href="#s" x="1443"/><rect class="Y" x="1485" y="-9" width="25" height="18" rx="8"/><rect class="B" x="1512" y="-6.5" width="21" height="13"/></g></g>

<g id="n02188"><text class="gl" x="812" y="1860">PH02Gene02188.t1</text><g transform="translate(0,1848.8)"><path class="L" d="M1172 0H1617"/><rect class="B" x="1172" y="-6.5" width="26" height="13"/><use href="#s" x="1206"/><use href="#s" x="1357"/><use href="#s" x="1475"/><use href="#s" x="1509"/><use href="#s" x="1528"/><rect class="Y" x="1556" y="-9" width="26" height="18" rx="8"/><rect class="B" x="1582" y="-6.5" width="35" height="13"/></g></g>

<g id="n42469"><text class="gl" x="812" y="1904">PH02Gene42469.t1</text><g transform="translate(0,1893.5)"><path class="L" d="M1172 0H2345"/><rect class="B" x="1172" y="-6.5" width="19" height="13"/><use href="#s" x="1198"/><use href="#s" x="1359"/><use href="#s" x="2195"/><use href="#s" x="2230"/><use href="#s" x="2250"/><rect class="Y" x="2279" y="-9" width="26" height="18" rx="8"/><rect class="B" x="2305" y="-6.5" width="40" height="13"/></g></g>

<g id="n09038"><text class="gl" x="812" y="1949">PH02Gene09038.t1</text><g transform="translate(0,1938)"><path class="L" d="M1172 0H2218"/><rect class="B" x="1172" y="-6.5" width="5" height="13"/><use href="#s" x="1183"/><use href="#r" x="1196"/><use href="#s" x="1289"/><use href="#r" x="1309"/><use href="#s" x="1367"/><use href="#s" x="1410"/><use href="#s" x="1422"/><use href="#s" x="1434"/><use href="#s" x="1838"/><use href="#s" x="1908"/><use href="#r" x="1927"/><use href="#s" x="1950"/><use href="#s" x="2014"/><use href="#s" x="2058"/><use href="#r" x="2075"/><use href="#s" x="2093"/><use href="#s" x="2111"/><use href="#r" x="2171"/><rect class="B" x="2178" y="-6.5" width="40" height="13"/></g></g>

<g id="n43669"><text class="gl" x="812" y="1994">PH02Gene43669.t1</text><g transform="translate(0,1982.8)"><path class="L" d="M1172 0H1842"/><rect class="B" x="1172" y="-6.5" width="149" height="13"/><use href="#s" x="1330"/><use href="#r" x="1351"/><use href="#s" x="1407"/><use href="#s" x="1448"/><use href="#s" x="1462"/><use href="#s" x="1474"/><use href="#s" x="1513"/><use href="#s" x="1579"/><use href="#r" x="1598"/><use href="#s" x="1612"/><use href="#s" x="1623"/><use href="#s" x="1684"/><use href="#s" x="1726"/><use href="#r" x="1740"/><use href="#s" x="1759"/><use href="#s" x="1781"/><use href="#r" x="1842"/></g></g>

<g id="n16195"><text class="gl" x="812" y="2039">PH02Gene16195.t2</text><g transform="translate(0,2027.5)"><path class="L" d="M1172 0H1785"/><rect class="B" x="1172" y="-6.5" width="165" height="13"/><use href="#s" x="1341"/><use href="#s" x="1355"/><use href="#s" x="1370"/><use href="#s" x="1401"/><use href="#s" x="1413"/><use href="#s" x="1508"/><use href="#s" x="1517"/><use href="#s" x="1540"/><use href="#s" x="1577"/><use href="#s" x="1654"/><use href="#s" x="1662"/><use href="#s" x="1674"/><use href="#s" x="1686"/><use href="#s" x="1698"/><use href="#s" x="1711"/><use href="#s" x="1730"/><use href="#s" x="1737"/><use href="#s" x="1749"/><rect class="B" x="1756" y="-6.5" width="29" height="13"/></g></g>

<g id="n25343"><text class="gl" x="812" y="2083">PH02Gene25343.t1</text><g transform="translate(0,2072)"><path class="L" d="M1172 0H1908"/><rect class="B" x="1172" y="-6.5" width="204" height="13"/><use href="#s" x="1381"/><use href="#s" x="1396"/><use href="#s" x="1410"/><use href="#s" x="1442"/><use href="#s" x="1455"/><use href="#s" x="1651"/><use href="#s" x="1660"/><use href="#s" x="1727"/><use href="#s" x="1761"/><use href="#s" x="1813"/><use href="#s" x="1823"/><use href="#s" x="1834"/><use href="#s" x="1845"/><use href="#s" x="1863"/><use href="#s" x="1882"/><use href="#s" x="1893"/><use href="#s" x="1908"/></g></g>

<g id="n46815"><text class="gl" x="812" y="2128">PH02Gene46815.t1</text><g transform="translate(0,2116.8)"><path class="L" d="M1172 0H1811"/><rect class="Y" x="1172" y="-9" width="93" height="18" rx="8"/><rect class="Y" x="1614" y="-9" width="145" height="18" rx="8"/><use href="#r" x="1781"/><rect class="B" x="1791" y="-6.5" width="20" height="13"/></g></g>

<g id="n47007"><text class="gl" x="812" y="2172">PH02Gene47007.t1</text><g transform="translate(0,2161.5)"><path class="L" d="M1172 0H1485"/><rect class="Y" x="1172" y="-9" width="241" height="18" rx="8"/><use href="#r" x="1433"/><use href="#s" x="1485"/></g></g>

<g id="axis">
<path d="M1173 2208H2993" stroke="#222" stroke-width="4.5" fill="none"/>
<path d="M1173 2196V2208M1241 2196V2208M1309 2196V2208M1377 2196V2208M1444 2196V2208M1512 2196V2208M1580 2196V2208M1648 2196V2208M1716 2196V2208M1784 2196V2208M1852 2196V2208M1919 2196V2208M1987 2196V2208M2055 2196V2208M2123 2196V2208M2191 2196V2208M2259 2196V2208M2326 2196V2208M2394 2196V2208M2462 2196V2208M2530 2196V2208M2598 2196V2208M2666 2196V2208M2734 2196V2208M2801 2196V2208M2869 2196V2208M2937 2196V2208" stroke="#222" stroke-width="2.5" fill="none"/>
<text class="ax" x="1175" y="2249">0</text><text class="ax" x="1241" y="2249">1</text><text class="ax" x="1309" y="2249">2</text><text class="ax" x="1377" y="2249">3</text><text class="ax" x="1444" y="2249">4</text><text class="ax" x="1512" y="2249">5</text><text class="ax" x="1580" y="2249">6</text><text class="ax" x="1648" y="2249">7</text><text class="ax" x="1716" y="2249">8</text><text class="ax" x="1784" y="2249">9</text><text class="ax" x="1852" y="2249">10</text><text class="ax" x="1919" y="2249">11</text><text class="ax" x="1987" y="2249">12</text><text class="ax" x="2055" y="2249">13</text><text class="ax" x="2123" y="2249">14</text><text class="ax" x="2191" y="2249">15</text><text class="ax" x="2259" y="2249">16</text><text class="ax" x="2326" y="2249">17</text><text class="ax" x="2394" y="2249">18</text><text class="ax" x="2462" y="2249">19</text><text class="ax" x="2530" y="2249">20</text><text class="ax" x="2598" y="2249">21</text><text class="ax" x="2666" y="2249">22</text><text class="ax" x="2734" y="2249">23</text><text class="ax" x="2801" y="2249">24</text><text class="ax" x="2869" y="2249">25</text><text class="ax" x="2934" y="2249">26</text>
<text class="ax" x="2993" y="2249">kb</text>
<text x="1150" y="2194" style="font-size:20px;text-anchor:middle;fill:#222">5’</text>
<text x="3016" y="2194" style="font-size:20px;text-anchor:middle;fill:#222">3’</text>
</g>

<g id="legend">
<rect x="125" y="2212" width="69" height="37" fill="#ffcc3c"/>
<text class="lg" x="223" y="2248">CDS</text>
<rect x="346" y="2212" width="69" height="37" fill="#4141cf"/>
<text class="lg" x="445" y="2248">upstream/downstream</text>
<path d="M888 2232H979" stroke="#111" stroke-width="4.5"/>
<text class="lg" x="998" y="2248">intron</text>
</g>
</svg>
